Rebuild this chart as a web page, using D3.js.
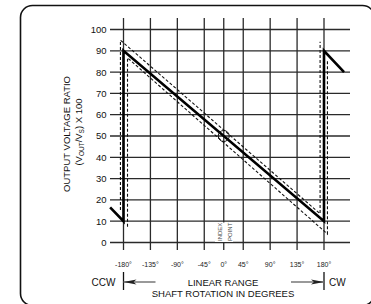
<!DOCTYPE html>
<html>
<head>
<meta charset="utf-8">
<script src="https://cdn.jsdelivr.net/npm/d3@7"></script>
<style>
  body { margin: 0; background: #fff; }
  svg { display: block; font-family: "Liberation Sans", Arial, Helvetica, sans-serif; }
</style>
</head>
<body>
<div id="chart"></div>
<script>
// values
var yTicks = [0, 10, 20, 30, 40, 50, 60, 70, 80, 90, 100];
var xTicks = [-180, -135, -90, -45, 0, 45, 90, 135, 180];
var xTickLabels = ["-180°", "-135°", "-90°", "-45°", "0°", "45°", "90°", "135°", "180°"];

// output ratio (%) vs shaft angle (deg)
var ratioLine = [
  {deg: -204, pct: 16.5}, {deg: -180, pct: 10}, {deg: -180, pct: 90},
  {deg: 180, pct: 10}, {deg: 180, pct: 90}, {deg: 216, pct: 80}
];
var upperLimit = [
  {deg: -185.5, pct: 15.3}, {deg: -185.5, pct: 95}, {deg: 173, pct: 13.5}, {deg: 173, pct: 94.3}
];
var lowerLimit = [
  {deg: -172.8, pct: 7.4}, {deg: -172.8, pct: 86.7}, {deg: 186.2, pct: 4}, {deg: 186.2, pct: 85.3}
];
var indexPoint = {deg: 0, pct: 50};

var svgWidth = 371;
var svgHeight = 304;

var svg = d3.select("#chart")
  .append("svg")
  .attr("width", svgWidth)
  .attr("height", svgHeight);

// card outline
svg.append("rect")
  .attr("x", 20.5)
  .attr("y", 5.5)
  .attr("width", 354)
  .attr("height", 300)
  .attr("rx", 12)
  .attr("fill", "none")
  .attr("stroke", "#111")
  .attr("stroke-width", 1.6);

var x = d3.scaleLinear().domain([-180, 180]).range([123.5, 324]);
var y = d3.scaleLinear().domain([0, 100]).range([242.5, 29.5]);
// grid in the drawing is squeezed near the index point
var xGrid = d3.scaleLinear().domain([-180, -45, 45, 180]).range([x(-180), x(-35), x(35), x(180)]);

var gridTop = 18;
var gridBottom = 250;
var gridLeft = 110;
var gridRight = 350;

// horizontal grid
svg.selectAll(".hgrid")
  .data(yTicks)
  .enter()
  .append("line")
  .attr("class", "hgrid")
  .attr("x1", gridLeft)
  .attr("x2", gridRight)
  .attr("y1", d => y(d))
  .attr("y2", d => y(d))
  .attr("stroke", "#2a2a2a")
  .attr("stroke-width", 1.3);

// vertical grid
svg.selectAll(".vgrid")
  .data(xTicks)
  .enter()
  .append("line")
  .attr("class", "vgrid")
  .attr("x1", d => xGrid(d))
  .attr("x2", d => xGrid(d))
  .attr("y1", gridTop)
  .attr("y2", gridBottom)
  .attr("stroke", "#2a2a2a")
  .attr("stroke-width", 1.3);

// y tick labels
svg.selectAll(".ylab")
  .data(yTicks)
  .enter()
  .append("text")
  .attr("class", "ylab")
  .attr("x", 106.5)
  .attr("y", d => y(d))
  .attr("dy", "0.36em")
  .attr("text-anchor", "end")
  .attr("font-size", "9.5px")
  .attr("fill", "#111")
  .text(d => d);

// x tick labels
svg.selectAll(".xlab")
  .data(xTicks)
  .enter()
  .append("text")
  .attr("class", "xlab")
  .attr("x", d => xGrid(d))
  .attr("y", 267)
  .attr("text-anchor", "middle")
  .attr("font-size", "7px")
  .attr("fill", "#222")
  .text((d, i) => xTickLabels[i]);

// index point label (white box hides grid)
svg.append("rect")
  .attr("x", 215)
  .attr("y", 222.5)
  .attr("width", 18)
  .attr("height", 19.5)
  .attr("fill", "#fff");

var idx = svg.append("g")
  .attr("font-size", "6px")
  .attr("fill", "#444");
idx.append("text")
  .attr("transform", "translate(221.6,241) rotate(-90)")
  .text("INDEX");
idx.append("text")
  .attr("transform", "translate(231.6,241) rotate(-90)")
  .text("POINT");

var line = d3.line()
  .x(d => x(d.deg))
  .y(d => y(d.pct));

// tolerance band
svg.append("path")
  .datum(upperLimit)
  .attr("d", line)
  .attr("fill", "none")
  .attr("stroke", "#111")
  .attr("stroke-width", 1.1)
  .attr("stroke-dasharray", "3,2");

svg.append("path")
  .datum(lowerLimit)
  .attr("d", line)
  .attr("fill", "none")
  .attr("stroke", "#111")
  .attr("stroke-width", 1.1)
  .attr("stroke-dasharray", "3,2");

// output ratio
svg.append("path")
  .datum(ratioLine)
  .attr("d", line)
  .attr("fill", "none")
  .attr("stroke", "#000")
  .attr("stroke-width", 2.6)
  .attr("stroke-linejoin", "miter");

svg.append("circle")
  .attr("cx", x(indexPoint.deg))
  .attr("cy", y(indexPoint.pct))
  .attr("r", 5.5)
  .attr("fill", "none")
  .attr("stroke", "#111")
  .attr("stroke-width", 1);

// y axis title
var yTitle = svg.append("g")
  .attr("font-size", "9.5px")
  .attr("fill", "#111")
  .attr("text-anchor", "middle");
yTitle.append("text")
  .attr("transform", "translate(70,134) rotate(-90)")
  .text("OUTPUT VOLTAGE RATIO");
var t2 = yTitle.append("text")
  .attr("transform", "translate(82,132) rotate(-90)");
t2.append("tspan").text("(V");
t2.append("tspan").attr("font-size", "6.5px").attr("dy", "2").text("OUT");
t2.append("tspan").attr("dy", "-2").text("/V");
t2.append("tspan").attr("font-size", "6.5px").attr("dy", "2").text("S");
t2.append("tspan").attr("dy", "-2").text(") X 100");

// x axis titles
var xTitle = svg.append("g")
  .attr("font-size", "9.5px")
  .attr("fill", "#111");
xTitle.append("text")
  .attr("x", 223)
  .attr("y", 285.5)
  .attr("text-anchor", "middle")
  .text("LINEAR RANGE");
xTitle.append("text")
  .attr("x", 223)
  .attr("y", 297)
  .attr("text-anchor", "middle")
  .text("SHAFT ROTATION IN DEGREES");
xTitle.append("text")
  .attr("x", 91.5)
  .attr("y", 286)
  .attr("font-size", "10px")
  .text("CCW");
xTitle.append("text")
  .attr("x", 329)
  .attr("y", 286)
  .attr("font-size", "10px")
  .text("CW");

// range arrows
var arrowY = 282;
var ends = [
  {at: x(-180), tail: x(-180) + 32, dir: -1},
  {at: x(180), tail: x(180) - 33, dir: 1}
];
ends.forEach(function(e) {
  svg.append("line")
    .attr("x1", e.at).attr("x2", e.at)
    .attr("y1", 272).attr("y2", 290)
    .attr("stroke", "#111").attr("stroke-width", 1.3);
  svg.append("line")
    .attr("x1", e.at).attr("x2", e.tail)
    .attr("y1", arrowY).attr("y2", arrowY)
    .attr("stroke", "#777").attr("stroke-width", 1.6);
  var tip = e.at;
  var back = e.at - e.dir * 13;
  svg.append("path")
    .attr("d", d3.line()([[tip, arrowY], [back, arrowY - 2.5], [back + e.dir * 3, arrowY], [back, arrowY + 2.5]]) + "Z")
    .attr("fill", "#222");
});
</script>
</body>
</html>
